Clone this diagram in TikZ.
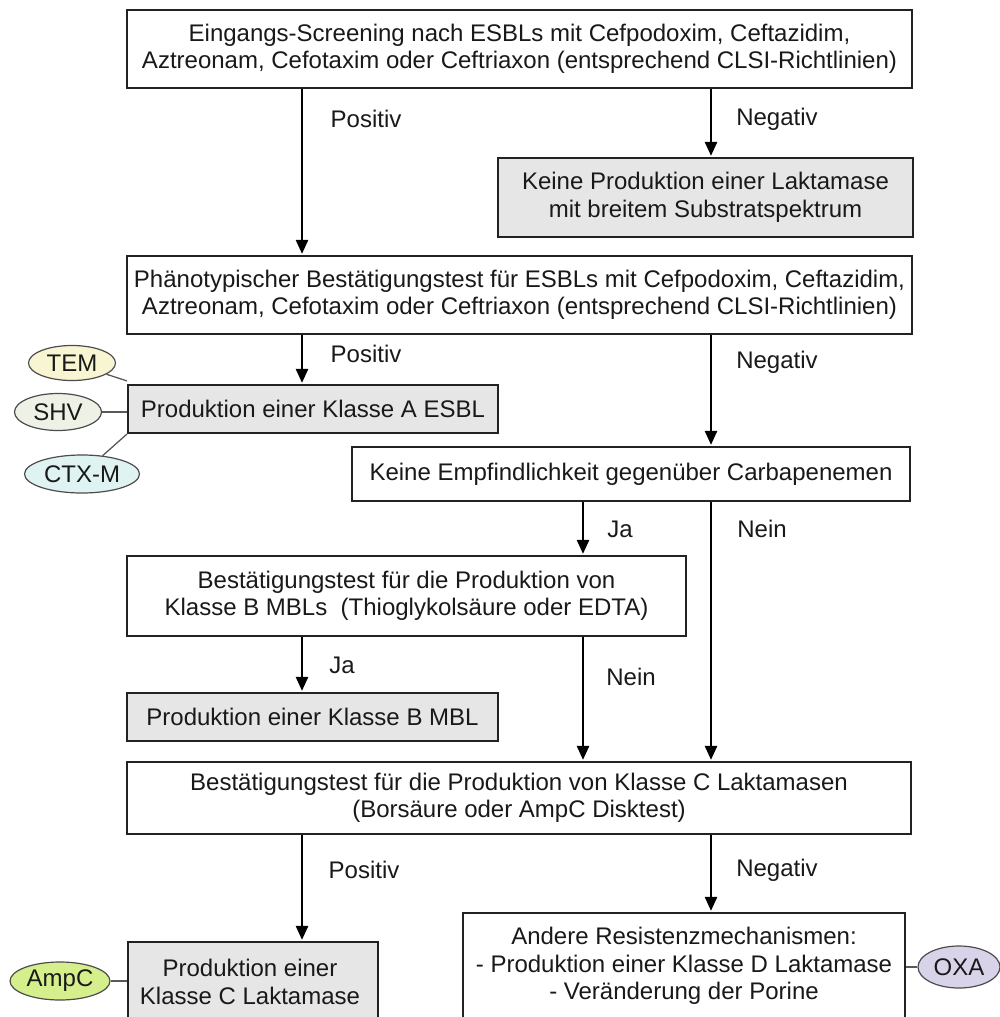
\documentclass[tikz,border=0pt]{standalone}
\usepackage{fontspec}
\setmainfont{Liberation Sans}
\usetikzlibrary{arrows.meta,shapes.geometric}
\definecolor{boxgray}{HTML}{E6E6E6}
\definecolor{bordergray}{HTML}{222222}
\definecolor{temc}{HTML}{F8F5D3}
\definecolor{shvc}{HTML}{EEF2E6}
\definecolor{ctxc}{HTML}{E0F3F3}
\definecolor{ampc}{HTML}{D5EF8C}
\definecolor{oxac}{HTML}{D9D3EA}
\tikzset{
  txt/.style={font=\fontsize{24}{27.5}\selectfont, text=black!90},
  box/.style={draw=bordergray, line width=2.2pt, fill=white, inner sep=0pt, align=center, txt},
  graybox/.style={box, fill=boxgray},
  frame/.style={draw=bordergray, line width=2.2pt, inner sep=0pt},
  arr/.style={line width=2.5pt, draw=black, -{Triangle[width=12pt,length=14pt]}, shorten >=1pt},
  lbl/.style={txt, inner sep=0pt},
  oval/.style={ellipse, draw=black!70, line width=1.2pt, inner sep=0pt, txt},
  link/.style={draw=black!65, line width=1.3pt}
}
\begin{document}
\begin{tikzpicture}[x=1pt,y=-1pt]
\useasboundingbox (0,0) rectangle (1000,1017);
\clip (0,0) rectangle (1000,1017);
% x positions of the vertical connectors
\coordinate (xl) at (302,0);
\coordinate (xm) at (583,0);
\coordinate (xr) at (711,0);
% boxes
\node[box, minimum width=785pt, minimum height=78pt] (b1) at (519.5,49)
  {Eingangs-Screening nach ESBLs mit Cefpodoxim, Ceftazidim,\\Aztreonam, Cefotaxim oder Ceftriaxon (entsprechend CLSI-Richtlinien)};
\node[graybox, minimum width=415pt, minimum height=79pt] (b2) at (705.5,197.5)
  {Keine Produktion einer Laktamase\\mit breitem Substratspektrum};
\node[box, minimum width=785pt, minimum height=78pt] (b3) at (519.5,295)
  {Phänotypischer Bestätigungstest für ESBLs mit Cefpodoxim, Ceftazidim,\\Aztreonam, Cefotaxim oder Ceftriaxon (entsprechend CLSI-Richtlinien)};
\node[graybox, minimum width=370pt, minimum height=48pt] (b4) at (313,409)
  {Produktion einer Klasse A ESBL};
\node[box, minimum width=558pt, minimum height=54pt] (b5) at (631,474)
  {Keine Empfindlichkeit gegenüber Carbapenemen};
\node[box, minimum width=559pt, minimum height=80pt] (b6) at (406.5,596)
  {Bestätigungstest für die Produktion von\\Klasse B MBLs~~(Thioglykolsäure oder EDTA)};
\node[graybox, minimum width=371pt, minimum height=48pt] (b7) at (312.5,717)
  {Produktion einer Klasse B MBL};
\node[box, minimum width=784pt, minimum height=72pt] (b8) at (519,798)
  {Bestätigungstest für die Produktion von Klasse C Laktamasen\\(Borsäure oder AmpC Disktest)};
\node[frame, fill=boxgray, minimum width=250pt, minimum height=100pt] (b9) at (253,992) {};
\node[lbl, align=center] (t9) at (250,982) {Produktion einer\\Klasse C Laktamase};
\node[frame, fill=white, minimum width=442pt, minimum height=130pt] (b10) at (684,978) {};
\node[lbl, align=center] (t10) at (684,966) {Andere Resistenzmechanismen:\\- Produktion einer Klasse D Laktamase\\- Veränderung der Porine};
% arrows
\draw[arr] (b1.south -| xl) -- (b3.north -| xl);
\draw[arr] (b1.south -| xr) -- (b2.north -| xr);
\draw[arr] (b3.south -| xl) -- (b4.north -| xl);
\draw[arr] (b3.south -| xr) -- (b5.north -| xr);
\draw[arr] (b5.south -| xm) -- (b6.north -| xm);
\draw[arr] (b5.south -| xr) -- (b8.north -| xr);
\draw[arr] (b6.south -| xl) -- (b7.north -| xl);
\draw[arr] (b6.south -| xm) -- (b8.north -| xm);
\draw[arr] (b8.south -| xl) -- (b9.north -| xl);
\draw[arr] (b8.south -| xr) -- (b10.north -| xr);
% labels
\node[lbl] (l1) at (366,119) {Positiv};
\node[lbl] (l2) at (777,119) {Negativ};
\node[lbl] (l3) at (366,354) {Positiv};
\node[lbl] (l4) at (777,362) {Negativ};
\node[lbl] (l5) at (620,529) {Ja};
\node[lbl] (l6) at (762,529) {Nein};
\node[lbl] (l7) at (342,665) {Ja};
\node[lbl] (l8) at (631,677) {Nein};
\node[lbl] (l9) at (364,870) {Positiv};
\node[lbl] (l10) at (777,870) {Negativ};
% ellipses
\node[oval, fill=temc, minimum width=87pt, minimum height=35pt] (tem) at (72,363) {TEM};
\node[oval, fill=shvc, minimum width=87pt, minimum height=37pt] (shv) at (58,412) {SHV};
\node[oval, fill=ctxc, minimum width=115pt, minimum height=38pt] (ctx) at (82,474) {CTX-M};
\node[oval, fill=ampc, minimum width=100pt, minimum height=38pt] (amp) at (60,981) {AmpC};
\node[oval, fill=oxac, minimum width=82pt, minimum height=42pt] (oxa) at (959,967) {OXA};
\coordinate (c1) at ([yshift=3pt]b4.north west);
\coordinate (c2) at ([yshift=-3pt]b4.west);
\coordinate (c3) at (b4.south west);
\draw[link] (tem) -- (c1);
\draw[link] (shv) -- (c2);
\draw[link] (ctx) -- (c3);
\draw[link] (amp.east) -- (amp.east -| b9.west);
\draw[link] (oxa.west) -- (oxa.west -| b10.east);
\end{tikzpicture}
\end{document}
